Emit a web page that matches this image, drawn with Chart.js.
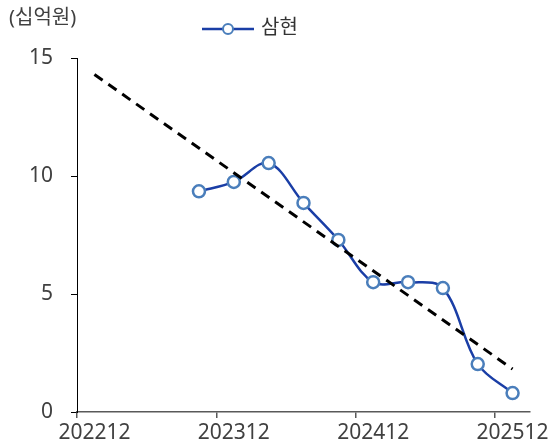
<!DOCTYPE html>
<html>
<head>
<meta charset="utf-8">
<script src="https://cdn.jsdelivr.net/npm/chart.js@4"></script>
<style>
  html, body { margin: 0; padding: 0; background: #fff; }
  #wrap { width: 552px; height: 443px; }
</style>
</head>
<body>
<div id="wrap"><canvas id="samhyunChart"></canvas></div>
<script>
const quarters = [
  "202212","202303","202306","202309","202312","202403","202406",
  "202409","202412","202503","202506","202509","202512"
];
const samhyun = [null, null, null, 9.35, 9.75, 10.55, 8.86, 7.29, 5.5, 5.5, 5.25, 2.03, 0.8];
// trend line end points
const trend = [14.3, null, null, null, null, null, null, null, null, null, null, null, 1.82];
const yTicks = [0, 5, 10, 15];
const seriesName = "삼현";
const unitLabel = "(십억원)";

const FONT = "'Noto Sans', 'Noto Sans CJK KR', sans-serif";
const LINE_BLUE = "#1a3ea6";
const MARK_BLUE = "#4a7ebb";

// unit text + legend drawn at the top
const topLabels = {
  id: "topLabels",
  afterDraw(chart) {
    const ctx = chart.ctx;
    ctx.save();
    ctx.font = "20px " + FONT;
    ctx.fillStyle = "#404040";
    ctx.textBaseline = "middle";
    ctx.textAlign = "left";
    ctx.fillText(unitLabel, 9, 18);

    // legend
    ctx.strokeStyle = LINE_BLUE;
    ctx.lineWidth = 2.5;
    ctx.beginPath();
    ctx.moveTo(202, 29);
    ctx.lineTo(254, 29);
    ctx.stroke();
    ctx.beginPath();
    ctx.arc(228, 29, 5, 0, Math.PI * 2);
    ctx.fillStyle = "#fff";
    ctx.fill();
    ctx.strokeStyle = MARK_BLUE;
    ctx.lineWidth = 2;
    ctx.stroke();
    ctx.fillStyle = "#333";
    ctx.fillText(seriesName, 261, 28);
    ctx.restore();
  }
};

new Chart(document.getElementById("samhyunChart"), {
  type: "line",
  data: {
    labels: quarters,
    datasets: [
      {
        label: "trend",
        data: trend,
        borderColor: "#000",
        borderWidth: 3,
        borderDash: [10, 7],
        pointRadius: 0,
        spanGaps: true,
        tension: 0,
        order: 0
      },
      {
        label: seriesName,
        data: samhyun,
        borderColor: LINE_BLUE,
        borderWidth: 2.5,
        pointRadius: 6,
        pointBorderWidth: 2.5,
        pointBackgroundColor: "#fff",
        pointBorderColor: MARK_BLUE,
        tension: 0.35,
        order: 1
      }
    ]
  },
  options: {
    responsive: true,
    maintainAspectRatio: false,
    animation: false,
    layout: { padding: { top: 58, right: 22, left: 0, bottom: 0 } },
    plugins: {
      legend: { display: false },
      tooltip: { enabled: false }
    },
    scales: {
      x: {
        offset: true,
        grid: {
          offset: true,
          drawOnChartArea: false,
          tickLength: 6,
          lineWidth: 1.5,
          color: c => (c.index !== undefined && c.index % 4 === 0) ? "#595959" : "transparent"
        },
        border: { color: "#595959", width: 1.5 },
        ticks: {
          autoSkip: false,
          maxRotation: 0,
          padding: 2,
          color: "#404040",
          font: { family: FONT, size: 21 },
          callback: function (v, i) { return i % 4 === 0 ? quarters[i] : ""; }
        },
        afterFit: s => { s.height = 31; }
      },
      y: {
        min: 0,
        max: 15,
        afterBuildTicks: s => { s.ticks = yTicks.map(v => ({ value: v })); },
        grid: {
          drawOnChartArea: false,
          tickLength: 6,
          color: "#000"
        },
        border: { color: "#000", width: 1 },
        ticks: {
          padding: 18,
          color: "#404040",
          font: { family: FONT, size: 21 }
        },
        afterFit: s => { s.width = 77; }
      }
    }
  },
  plugins: [topLabels]
});
</script>
</body>
</html>
